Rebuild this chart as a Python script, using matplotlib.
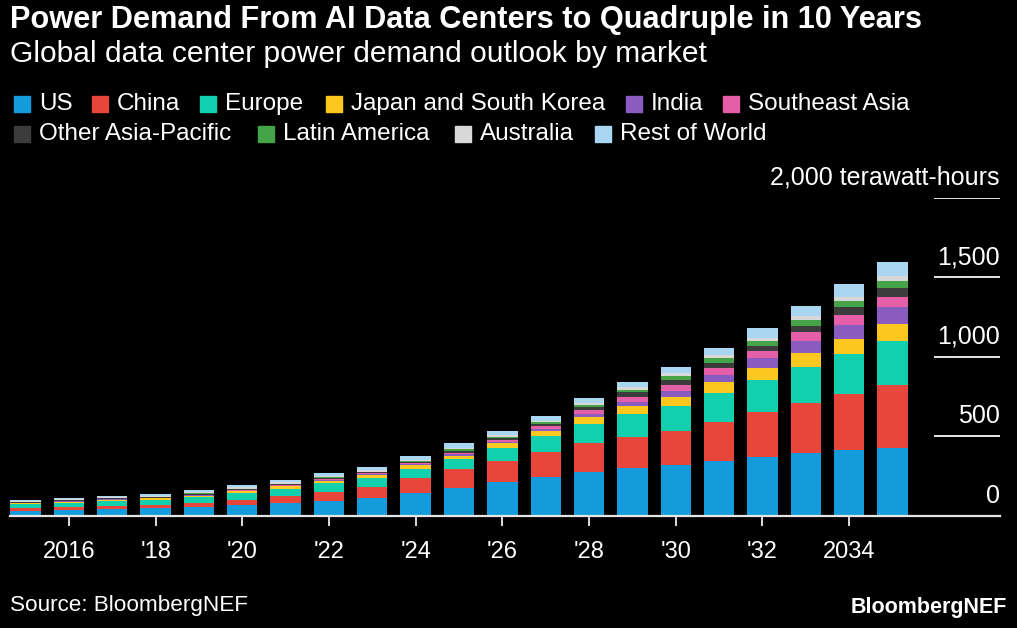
import matplotlib
matplotlib.use("Agg")
import matplotlib.pyplot as plt
from matplotlib.patches import Rectangle
import numpy as np

plt.rcParams['font.family'] = ['Liberation Sans', 'DejaVu Sans']

years = list(range(2015, 2036))
series_names = ["US", "China", "Europe", "Japan and South Korea", "India", "Southeast Asia",
                "Other Asia-Pacific", "Latin America", "Australia", "Rest of World"]
us = [30, 36, 40, 46, 52, 65, 80, 94, 111, 145, 176, 210, 241, 273, 298, 321, 346, 367, 392, 413, 426]
china = [17, 19, 19, 19, 25, 34, 42, 57, 71, 90, 115, 136, 157, 182, 199, 214, 245, 283, 317, 352, 398]
europe = [25, 27, 34, 36, 42, 46, 47, 52, 55, 61, 65, 82, 103, 120, 140, 157, 180, 203, 229, 252, 277]
japan_korea = [6, 6, 8, 8, 8, 10, 15, 17, 19, 21, 22, 27, 29, 44, 50, 53, 67, 75, 86, 96, 105]
india = [2, 2, 2, 2, 3, 3, 4, 5, 5, 6, 9, 11, 17, 19, 31, 42, 48, 63, 73, 88, 109]
southeast_asia = [2, 2, 2, 2, 3, 3, 4, 5, 5, 6, 10, 11, 17, 27, 31, 38, 46, 46, 57, 63, 63]
other_apac = [4, 4, 5, 5, 6, 7, 7, 8, 8, 10, 12, 12, 13, 17, 26, 29, 31, 31, 36, 46, 52]
latin_america = [2, 2, 2, 2, 2, 3, 3, 3, 3, 5, 8, 8, 10, 16, 17, 23, 27, 31, 38, 38, 48]
australia = [4, 4, 4, 5, 6, 7, 7, 8, 9, 9, 10, 10, 10, 10, 15, 21, 21, 21, 25, 29, 31]
rest_of_world = [9, 11, 11, 14, 15, 16, 16, 17, 22, 20, 28, 28, 31, 34, 36, 36, 46, 63, 67, 80, 88]
series = [us, china, europe, japan_korea, india, southeast_asia, other_apac,
          latin_america, australia, rest_of_world]
colors = ["#139bdb", "#e8463a", "#12cfae", "#fcc820", "#8b5cc0", "#e45ea8",
          "#3c3c3c", "#45a348", "#d8d8d8", "#a9d7f2"]

xtick_years = [2016, 2018, 2020, 2022, 2024, 2026, 2028, 2030, 2032, 2034]
xtick_labels = ["2016", "'18", "'20", "'22", "'24", "'26", "'28", "'30", "'32", "2034"]
ytick_vals = [0, 500, 1000, 1500, 2000]
ytick_labels = ["0", "500", "1,000", "1,500", "2,000 terawatt-hours"]

W, H = 1017, 628
fig = plt.figure(figsize=(W / 100, H / 100), dpi=100, facecolor="black")

# axes placement in pixels
ax_left, ax_right, ax_bottom, ax_top = 10, 1000, 515.7, 197.7
ax = fig.add_axes([ax_left / W, 1 - ax_bottom / H, (ax_right - ax_left) / W, (ax_bottom - ax_top) / H])
ax.set_facecolor("black")

bottom = np.zeros(len(years))
for vals, col in zip(series, colors):
    ax.bar(years, vals, bottom=bottom, width=0.70, color=col, linewidth=0)
    bottom += np.array(vals)

ax.set_xlim(2014.642, 2037.48)
ax.set_ylim(0, 2000)
for s in ax.spines.values():
    s.set_visible(False)
ax.set_yticks([])

# baseline
ax.axhline(0, color="#e6e6e6", linewidth=1.6, zorder=5, clip_on=False)
# short right gridlines and labels
gx0 = (935 - ax_left) / (ax_right - ax_left)
for v, lab in zip(ytick_vals, ytick_labels):
    if v > 0:
        ax.axhline(v, xmin=gx0, xmax=1, color="#e6e6e6", linewidth=1.4)
    ax.annotate(lab, xy=(1, v), xycoords=("axes fraction", "data"),
                xytext=(0, 14.5), textcoords="offset points",
                ha="right", va="center", color="white", fontsize=18)

ax.set_xticks(xtick_years)
ax.set_xticklabels(xtick_labels, color="white", fontsize=17)
ax.tick_params(axis="x", colors="white", length=7, width=1.2, pad=11, labelcolor="white")

# Title & subtitle
fig.text(10 / W, 1 - 20 / H, "Power Demand From AI Data Centers to Quadruple in 10 Years",
         color="white", fontsize=22.15, fontweight="bold", ha="left", va="center")
fig.text(10 / W, 1 - 54 / H, "Global data center power demand outlook by market",
         color="white", fontsize=21.6, ha="left", va="center")

# Legend (manual)
leg_rows = [
    [(14, 0), (92, 1), (200, 2), (326, 3), (626, 4), (723, 5)],
    [(14, 6), (258, 7), (455, 8), (595, 9)],
]
row_y = [104, 134]
sq = 16
for r, items in enumerate(leg_rows):
    yc = row_y[r]
    for xpix, idx in items:
        fig.patches.append(Rectangle((xpix / W, 1 - (yc + sq / 2) / H), sq / W, sq / H,
                                     transform=fig.transFigure, color=colors[idx]))
        fig.text((xpix + sq + 9) / W, 1 - yc / H, series_names[idx], color="white",
                 fontsize=17.5, ha="left", va="center")

fig.text(10 / W, 1 - 606 / H, "Source: BloombergNEF", color="white", fontsize=16.2,
         ha="left", va="center")
fig.text(1007 / W, 1 - 607 / H, "BloombergNEF", color="white", fontsize=15.5,
         fontweight="bold", ha="right", va="center")

fig.savefig("out.png", dpi=100, facecolor="black")
